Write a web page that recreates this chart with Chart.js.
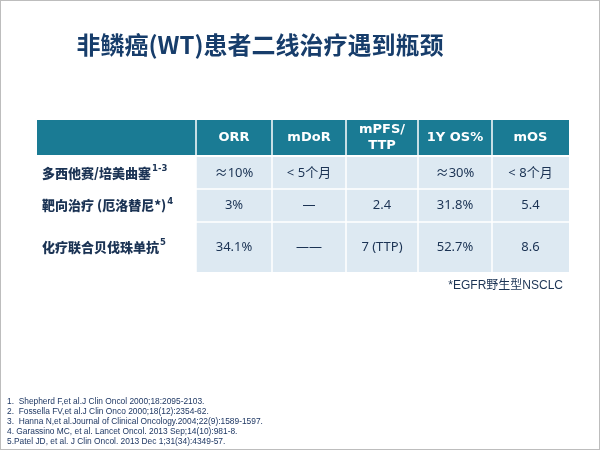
<!DOCTYPE html>
<html>
<head>
<meta charset="utf-8">
<script src="https://cdn.jsdelivr.net/npm/chart.js@4/dist/chart.umd.min.js"></script>
<style>
  html, body { margin: 0; padding: 0; background: #fff; }
  canvas { display: block; }
</style>
</head>
<body>
<canvas id="tabla" width="600" height="450"></canvas>
<script>
// Datos de la diapositiva
const titulo = '非鳞癌(WT)患者二线治疗遇到瓶颈';
const columnas = [['ORR'], ['mDoR'], ['mPFS/', 'TTP'], ['1Y OS%'], ['mOS']];
const tratamientos = ['多西他赛/培美曲塞', '靶向治疗 (厄洛替尼*)', '化疗联合贝伐珠单抗'];
const citas = ['1-3', '4', '5'];
const orr = ['≈10%', '3%', '34.1%'];
const mdor = ['< 5个月', '—', '——'];
const mpfs = ['', '2.4', '7 (TTP)'];
const os1y = ['≈30%', '31.8%', '52.7%'];
const mos = ['< 8个月', '5.4', '8.6'];
const nota = '*EGFR野生型NSCLC';
const referencias = [
  '1.  Shepherd F,et al.J Clin Oncol 2000;18:2095-2103.',
  '2.  Fossella FV,et al.J Clin Onco 2000;18(12):2354-62.',
  '3.  Hanna N,et al.Journal of Clinical Oncology.2004;22(9):1589-1597.',
  '4. Garassino MC, et al. Lancet Oncol. 2013 Sep;14(10):981-8.',
  '5.Patel JD, et al. J Clin Oncol. 2013 Dec 1;31(34):4349-57.'
];

// Geometría de la tabla (unidades de las escalas = píxeles de la diapositiva)
const bordesX = [37, 196, 272, 346, 418, 492, 569];
const cabecera = [120, 155];
const filas = [[157, 189], [189, 222], [222, 272]];

const CJK = '"Noto Sans CJK SC"';
const azulTitulo = '#173d6b';
const azulTexto = '#1b3354';
const verdeAzul = '#1a7b94';
const celesteCelda = '#dde9f2';

const dibujarTabla = {
  id: 'dibujarTabla',
  afterDraw(chart) {
    const ctx = chart.ctx;
    const px = v => chart.scales.x.getPixelForValue(v);
    const py = v => chart.scales.y.getPixelForValue(v);
    const valores = [orr, mdor, mpfs, os1y, mos];

    ctx.save();

    // marco de la diapositiva
    ctx.strokeStyle = '#bdbdbd';
    ctx.lineWidth = 1;
    ctx.strokeRect(px(0) + 0.5, py(0) + 0.5, px(600) - px(0) - 1, py(450) - py(0) - 1);

    // título
    ctx.fillStyle = azulTitulo;
    ctx.font = 'bold 24px ' + CJK;
    ctx.textAlign = 'center';
    ctx.textBaseline = 'middle';
    ctx.fillText(titulo, px(260), py(45));

    // cabecera
    ctx.fillStyle = verdeAzul;
    ctx.fillRect(px(bordesX[0]), py(cabecera[0]), px(bordesX[6]) - px(bordesX[0]), py(cabecera[1]) - py(cabecera[0]));

    // celdas de datos
    filas.forEach(([y0, y1]) => {
      ctx.fillStyle = celesteCelda;
      ctx.fillRect(px(bordesX[1]), py(y0), px(bordesX[6]) - px(bordesX[1]), py(y1) - py(y0));
    });

    // líneas blancas entre celdas
    ctx.strokeStyle = '#ffffff';
    ctx.lineWidth = 1.5;
    for (let i = 1; i < 6; i++) {
      ctx.beginPath();
      ctx.moveTo(px(bordesX[i]), py(cabecera[0]));
      ctx.lineTo(px(bordesX[i]), py(filas[2][1]));
      ctx.stroke();
    }
    filas.slice(1).forEach(([y0]) => {
      ctx.beginPath();
      ctx.moveTo(px(bordesX[1]), py(y0));
      ctx.lineTo(px(bordesX[6]), py(y0));
      ctx.stroke();
    });

    // texto de la cabecera
    ctx.fillStyle = '#ffffff';
    ctx.font = 'bold 13px "DejaVu Sans", ' + CJK;
    columnas.forEach((lineas, i) => {
      const cx = px((bordesX[i + 1] + bordesX[i + 2]) / 2);
      const cy = py((cabecera[0] + cabecera[1]) / 2);
      lineas.forEach((t, k) => {
        ctx.fillText(t, cx, cy + (k - (lineas.length - 1) / 2) * 16);
      });
    });

    // nombres de tratamientos con superíndice
    filas.forEach(([y0, y1], f) => {
      const cy = py((y0 + y1) / 2);
      ctx.textAlign = 'left';
      ctx.fillStyle = azulTexto;
      ctx.font = '900 13px ' + CJK;
      ctx.fillText(tratamientos[f], px(42), cy);
      const ancho = ctx.measureText(tratamientos[f]).width;
      ctx.font = 'bold 8.5px "DejaVu Sans"';
      ctx.fillText(citas[f], px(42) + ancho + 1, cy - 4);

      // valores
      ctx.textAlign = 'center';
      ctx.font = '13px "Noto Sans", ' + CJK;
      valores.forEach((serie, c) => {
        const cx = px((bordesX[c + 1] + bordesX[c + 2]) / 2);
        ctx.fillText(serie[f], cx, cy);
      });
    });

    // nota
    ctx.textAlign = 'right';
    ctx.fillStyle = azulTexto;
    ctx.font = '12px "Liberation Sans", ' + CJK;
    ctx.fillText(nota, px(563), py(286));

    // referencias
    ctx.textAlign = 'left';
    ctx.fillStyle = '#1f3864';
    ctx.font = '8.4px "Liberation Sans"';
    referencias.forEach((r, i) => {
      ctx.fillText(r, px(7), py(402 + i * 9.8));
    });

    ctx.restore();
  }
};

new Chart(document.getElementById('tabla'), {
  type: 'scatter',
  data: { datasets: [{ data: [] }] },
  options: {
    responsive: false,
    animation: false,
    layout: { padding: 0 },
    scales: {
      x: { type: 'linear', min: 0, max: 600, display: false },
      y: { type: 'linear', min: 0, max: 450, reverse: true, display: false }
    },
    plugins: {
      legend: { display: false },
      tooltip: { enabled: false }
    }
  },
  plugins: [dibujarTabla]
});
</script>
</body>
</html>
